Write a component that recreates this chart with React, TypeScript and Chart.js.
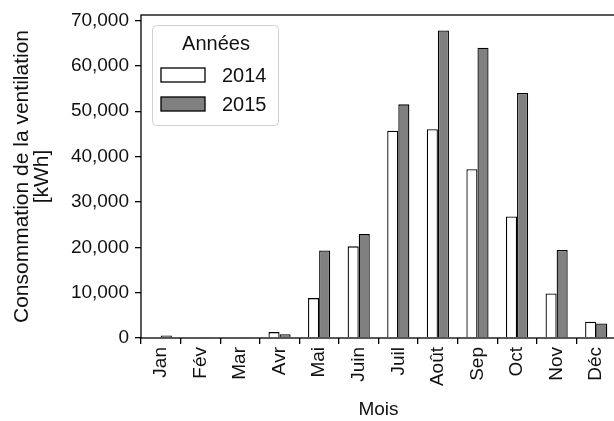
import React, { useEffect, useRef } from "react";
import { Chart, registerables } from "chart.js";

Chart.register(...registerables);

const months = ["Jan", "Fév", "Mar", "Avr", "Mai", "Juin", "Juil", "Août", "Sep", "Oct", "Nov", "Déc"];
const values2014 = [0, 0, 0, 1300, 8800, 20200, 45700, 46000, 37200, 26800, 9800, 3600];
const values2015 = [550, 200, 200, 850, 19300, 22900, 51500, 67800, 64000, 54000, 19400, 3200];
const seriesLabels = ["2014", "2015"];
const seriesColors = ["#ffffff", "#808080"];
const yTickValues = [0, 10000, 20000, 30000, 40000, 50000, 60000, 70000];
const legendTitle = "Années";
const yTitle = ["Consommation de la ventilation", "[kWh]"];
const xTitle = "Mois";

const FONT = "'Liberation Sans', Arial, sans-serif";

const framePlugin = {
  id: "frame",
  afterDatasetsDraw(chart: any) {
    const { ctx, chartArea } = chart;
    ctx.save();
    ctx.strokeStyle = "#000";
    ctx.lineWidth = 1.3;
    ctx.strokeRect(chartArea.left, chartArea.top, chartArea.right - chartArea.left, chartArea.bottom - chartArea.top);
    ctx.restore();
  },
};

const legendPlugin = {
  id: "innerLegend",
  afterDraw(chart: any) {
    const { ctx, chartArea } = chart;
    const x0 = chartArea.left + 11;
    const y0 = chartArea.top + 10;
    const w = 126;
    const h = 100;
    ctx.save();
    ctx.fillStyle = "rgba(255,255,255,0.85)";
    ctx.strokeStyle = "#d0d0d0";
    ctx.lineWidth = 1;
    ctx.beginPath();
    (ctx as any).roundRect(x0 + 0.5, y0 + 0.5, w, h, 4);
    ctx.fill();
    ctx.stroke();
    ctx.fillStyle = "#111";
    ctx.font = `20px ${FONT}`;
    ctx.textAlign = "center";
    ctx.textBaseline = "middle";
    ctx.fillText(legendTitle, x0 + 64, y0 + 19);
    chart.data.datasets.forEach((ds: any, i: number) => {
      const ry = y0 + 43 + i * 29;
      ctx.fillStyle = ds.backgroundColor;
      ctx.fillRect(x0 + 9, ry, 44, 14);
      ctx.strokeStyle = "#000";
      ctx.lineWidth = 1.3;
      ctx.strokeRect(x0 + 9, ry, 44, 14);
      ctx.fillStyle = "#111";
      ctx.textAlign = "left";
      ctx.fillText(ds.label, x0 + 70, ry + 8);
    });
    ctx.restore();
  },
};

export default function App() {
  const ref = useRef<HTMLCanvasElement>(null);
  useEffect(() => {
    if (!ref.current) return;
    const chart = new Chart(ref.current, {
      type: "bar",
      data: {
        labels: months,
        datasets: [values2014, values2015].map((d, i) => ({
          label: seriesLabels[i],
          data: d,
          backgroundColor: seriesColors[i],
          borderColor: "#000",
          borderWidth: 1.3,
          categoryPercentage: 0.56,
          barPercentage: 1,
        })),
      },
      options: {
        animation: false,
        responsive: false,
        maintainAspectRatio: false,
        layout: { padding: { top: 15, right: 0, left: 0, bottom: 0 } },
        plugins: { legend: { display: false }, tooltip: { enabled: false } },
        scales: {
          x: {
            grid: { display: true, drawOnChartArea: false, drawTicks: true, tickLength: 6, color: "#000", lineWidth: 1.3 },
            border: { display: false },
            ticks: {
              color: "#111",
              font: { family: FONT, size: 19 },
              minRotation: 90,
              maxRotation: 90,
              padding: 3,
              autoSkip: false,
            },
            title: { display: true, text: xTitle, color: "#111", font: { family: FONT, size: 19 }, padding: { top: 2, bottom: 0 } },
            afterFit(scale: any) {
              scale.height = 83;
              scale.paddingLeft = 0;
              scale.paddingRight = 0;
            },
          },
          y: {
            min: 0,
            max: 71200,
            afterBuildTicks(scale: any) {
              scale.ticks = yTickValues.map((v) => ({ value: v }));
            },
            grid: { display: true, drawOnChartArea: false, drawTicks: true, tickLength: 6, color: "#000", lineWidth: 1.3 },
            border: { display: false },
            ticks: {
              color: "#111",
              font: { family: FONT, size: 19 },
              padding: 6,
              callback: (v: any) => Number(v).toLocaleString("en-US"),
            },
            title: { display: true, text: yTitle, color: "#111", font: { family: FONT, size: 21, lineHeight: 0.95 }, padding: { top: 12, bottom: 4 } },
            afterFit(scale: any) {
              scale.width = 141;
              scale.paddingTop = 0;
              scale.paddingBottom = 0;
            },
          },
        },
      },
      plugins: [framePlugin, legendPlugin],
    });
    return () => chart.destroy();
  }, []);
  return (
    <div style={{ position: "fixed", left: 0, top: 0, width: 614, height: 421, overflow: "hidden", background: "#fff" }}>
      <canvas ref={ref} width={616} height={421} style={{ width: 616, height: 421, display: "block" }} />
    </div>
  );
}
